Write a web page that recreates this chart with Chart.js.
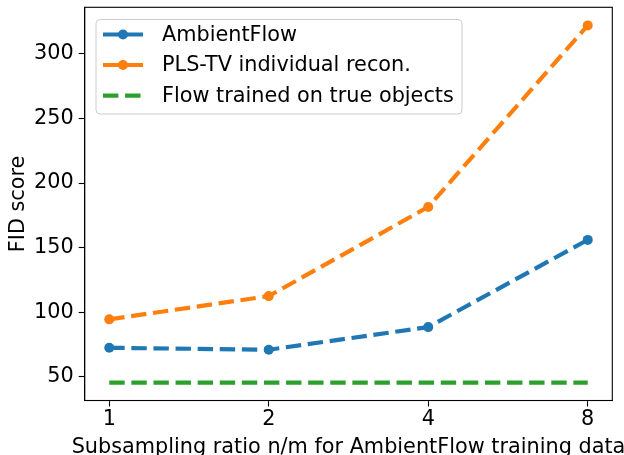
<!DOCTYPE html>
<html>
<head>
<meta charset="utf-8">
<script src="https://cdn.jsdelivr.net/npm/chart.js@4.4.1/dist/chart.umd.min.js"></script>
<style>
  html, body { margin: 0; padding: 0; background: #fff; }
  #wrap { width: 624px; height: 455px; }
</style>
</head>
<body>
<div id="wrap"><canvas id="c" width="624" height="455"></canvas></div>
<script>
// Subsampling ratios (plotted on a log2 axis) and FID scores per method
const ratios = [1, 2, 4, 8];
const ambientFlow = [72.5, 71, 88.5, 156];
const plsTV = [94.5, 112.5, 181.5, 322];
const trueObjects = [45.5, 45.5, 45.5, 45.5];
const yTicks = [50, 100, 150, 200, 250, 300];

const seriesNames = ['AmbientFlow', 'PLS-TV individual recon.', 'Flow trained on true objects'];
const colors = ['#1f77b4', '#ff7f0e', '#2ca02c'];
const FONT = 'DejaVu Sans';
const FS = 20.8;
const LW = 4.2;
const DASH = [15.4, 6.7];

const toPts = vals => vals.map((v, i) => ({ x: Math.log2(ratios[i]), y: v }));

// Frame around the plotting area, axis titles and the legend box
const decorations = {
  id: 'decorations',
  afterDatasetsDraw(chart) {
    const { ctx, chartArea: a } = chart;
    ctx.save();
    ctx.strokeStyle = '#000';
    ctx.lineWidth = 1.1;
    ctx.strokeRect(a.left, a.top, a.right - a.left, a.bottom - a.top);

    // legend
    const lx = 96, ly = 19.5, lw = 366, lh = 94.5, r = 4;
    ctx.beginPath();
    ctx.roundRect(lx, ly, lw, lh, r);
    ctx.fillStyle = 'rgba(255,255,255,0.8)';
    ctx.fill();
    ctx.strokeStyle = '#cccccc';
    ctx.lineWidth = 1;
    ctx.stroke();

    const rows = [34.5, 65, 95.7];
    ctx.font = FS + 'px "' + FONT + '"';
    ctx.textBaseline = 'middle';
    ctx.textAlign = 'left';
    rows.forEach((y, i) => {
      ctx.strokeStyle = colors[i];
      ctx.lineWidth = LW;
      ctx.lineCap = 'butt';
      if (i === 2) ctx.setLineDash(DASH); else ctx.setLineDash([]);
      ctx.beginPath();
      ctx.moveTo(103, y);
      ctx.lineTo(143, y);
      ctx.stroke();
      ctx.setLineDash([]);
      if (i < 2) {
        ctx.beginPath();
        ctx.arc(123, y, 5, 0, Math.PI * 2);
        ctx.fillStyle = colors[i];
        ctx.fill();
      }
      ctx.fillStyle = '#000';
      ctx.fillText(seriesNames[i], 162, y + 1);
    });

    // axis titles
    ctx.fillStyle = '#000';
    ctx.font = FS + 'px "' + FONT + '"';
    ctx.textAlign = 'center';
    ctx.textBaseline = 'alphabetic';
    ctx.fillText('Subsampling ratio n/m for AmbientFlow training data', (a.left + a.right) / 2, 453);
    ctx.save();
    ctx.translate(19, (a.top + a.bottom) / 2);
    ctx.rotate(-Math.PI / 2);
    ctx.textBaseline = 'middle';
    ctx.fillText('FID score', 0, 0);
    ctx.restore();
    ctx.restore();
  }
};

const lineDs = (label, data, color, withPoints) => ({
  label,
  data: toPts(data),
  borderColor: color,
  backgroundColor: color,
  borderWidth: LW,
  borderDash: DASH,
  borderCapStyle: 'butt',
  pointRadius: withPoints ? 5 : 0,
  pointHoverRadius: withPoints ? 5 : 0,
  pointBorderWidth: 0,
  pointBackgroundColor: color,
  tension: 0,
  fill: false
});

new Chart(document.getElementById('c'), {
  type: 'line',
  data: {
    datasets: [
      lineDs(seriesNames[0], ambientFlow, colors[0], true),
      lineDs(seriesNames[1], plsTV, colors[1], true),
      lineDs(seriesNames[2], trueObjects, colors[2], false)
    ]
  },
  options: {
    responsive: false,
    animation: false,
    devicePixelRatio: 1,
    layout: { padding: { top: 7.3, right: 11.7, left: 0, bottom: 0 } },
    plugins: { legend: { display: false }, tooltip: { enabled: false } },
    scales: {
      x: {
        type: 'linear',
        min: -0.154,
        max: 3.154,
        afterBuildTicks: s => { s.ticks = ratios.map(r => ({ value: Math.log2(r) })); },
        afterFit: s => { s.height = 54.5; s.paddingLeft = 0; s.paddingRight = 0; },
        ticks: {
          callback: v => String(Math.round(Math.pow(2, v))),
          font: { family: FONT, size: FS },
          color: '#000',
          padding: 1,
          maxRotation: 0,
          autoSkip: false
        },
        grid: { drawOnChartArea: false, drawTicks: true, tickLength: 6, tickColor: '#000', tickWidth: 1.1 },
        border: { display: true, color: '#000', width: 1.1 }
      },
      y: {
        type: 'linear',
        min: 31.7,
        max: 336,
        afterBuildTicks: s => { s.ticks = yTicks.map(v => ({ value: v })); },
        afterFit: s => { s.width = 84.7; s.paddingTop = 0; s.paddingBottom = 0; },
        ticks: {
          font: { family: FONT, size: FS },
          color: '#000',
          padding: 5
        },
        grid: { drawOnChartArea: false, drawTicks: true, tickLength: 6, tickColor: '#000', tickWidth: 1.1 },
        border: { display: true, color: '#000', width: 1.1 }
      }
    }
  },
  plugins: [decorations]
});
</script>
</body>
</html>
